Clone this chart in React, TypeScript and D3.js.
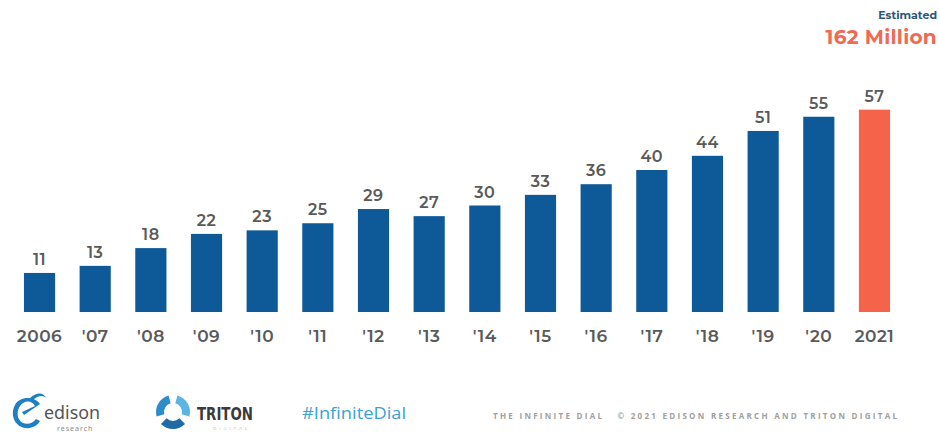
import React from "react";
import * as d3 from "d3";

const categories = ["2006", "'07", "'08", "'09", "'10", "'11", "'12", "'13", "'14", "'15", "'16", "'17", "'18", "'19", "'20", "2021"];
const values = [11, 13, 18, 22, 23, 25, 29, 27, 30, 33, 36, 40, 44, 51, 55, 57];
const highlighted = ["2021"];

const W = 940;
const H = 433;
const FONT = "Montserrat, 'Noto Sans', 'Open Sans', sans-serif";

export default function App() {
  const x = d3.scaleBand<string>().domain(categories).range([11.7, 902.3]).paddingInner(0.44).paddingOuter(0.22);
  const y = d3.scaleLinear().domain([0, 60]).range([312, 99]);

  const arc = d3.arc();
  const tritonArcs = [0, 120, 240].map((a) => ({
    start: ((a + 15) * Math.PI) / 180,
    end: ((a + 105) * Math.PI) / 180,
  }));

  return (
    <svg width={W} height={H} style={{ position: "absolute", left: 0, top: 0, background: "#fff" }} fontFamily={FONT}>
      <rect width={W} height={H} fill="#fff" />
      <text x={937} y={19} textAnchor="end" fontSize={11} fontWeight={700} fill="#2f5676">Estimated</text>
      <text x={937} y={44} textAnchor="end" fontSize={20} fontWeight={700} fill="#ee6a52" letterSpacing={0.3}>162 Million</text>

      {categories.map((c, i) => {
        const bx = x(c)!;
        const by = y(values[i]);
        const fill = highlighted.includes(c) ? "#f5644a" : "#0e5a98";
        return (
          <g key={c}>
            <rect x={bx} y={by} width={x.bandwidth()} height={y(0) - by} fill={fill} />
            <text x={bx + x.bandwidth() / 2} y={by - 8} textAnchor="middle" fontSize={16} fontWeight={600} fill="#5a5a5a" letterSpacing={0.5}>{values[i]}</text>
            <text x={bx + x.bandwidth() / 2} y={342} textAnchor="middle" fontSize={17} fontWeight={600} fill="#5a5a5a" letterSpacing={0.5}>{c}</text>
          </g>
        );
      })}

      {/* Edison logo */}
      <g>
        <path d="M40,404 C34,396 20,396 15,405 C10,414 14,426 25,428 C32,429 38,425 40,421 L36,419 C33,423 28,425 23,423 C17,420 16,412 20,406 C24,400 32,400 35,406 L22,412 L24,415 Z" fill="#1f7fc4" />
        <path d="M30,398 C36,392 44,392 46,398 C44,395 38,395 33,400 Z" fill="#1f7fc4" />
        <text x={44} y={419} fontSize={18} fill="#555" fontFamily="'Noto Sans', sans-serif" textLength={56} lengthAdjust="spacingAndGlyphs">edison</text>
        <text x={57} y={431} fontSize={7} fill="#8a8a8a" letterSpacing={1} fontFamily="'Noto Sans', sans-serif">research</text>
      </g>

      {/* Triton logo */}
      <g transform="translate(173,412)">
        {tritonArcs.map((a, i) => (
          <path
            key={i}
            d={arc({ innerRadius: 9, outerRadius: 17, startAngle: a.start, endAngle: a.end })!}
            fill={i === 0 ? "#5bb5e0" : i === 1 ? "#1d6aa6" : "#2f8ccb"}
          />
        ))}
      </g>
      <text x={197} y={420} fontSize={17} fontWeight={700} fill="#3a3a3a" textLength={56} lengthAdjust="spacingAndGlyphs" fontFamily="'DejaVu Sans', sans-serif">TRITON</text>
      <text x={213} y={430} fontSize={4} fill="#aaa" letterSpacing={3}>DIGITAL</text>

      <text x={302} y={419} fontSize={17} fontWeight={500} fill="#3b9fd4" textLength={104} lengthAdjust="spacingAndGlyphs" fontFamily="'Open Sans', sans-serif">#InfiniteDial</text>

      <text x={493} y={419} fontSize={8} fontWeight={700} fill="#a0a0a0" textLength={404} lengthAdjust="spacing" fontFamily="'Open Sans', sans-serif">
        THE INFINITE DIAL {"\u00a0\u00a0"}© 2021 EDISON RESEARCH AND TRITON DIGITAL
      </text>
    </svg>
  );
}
